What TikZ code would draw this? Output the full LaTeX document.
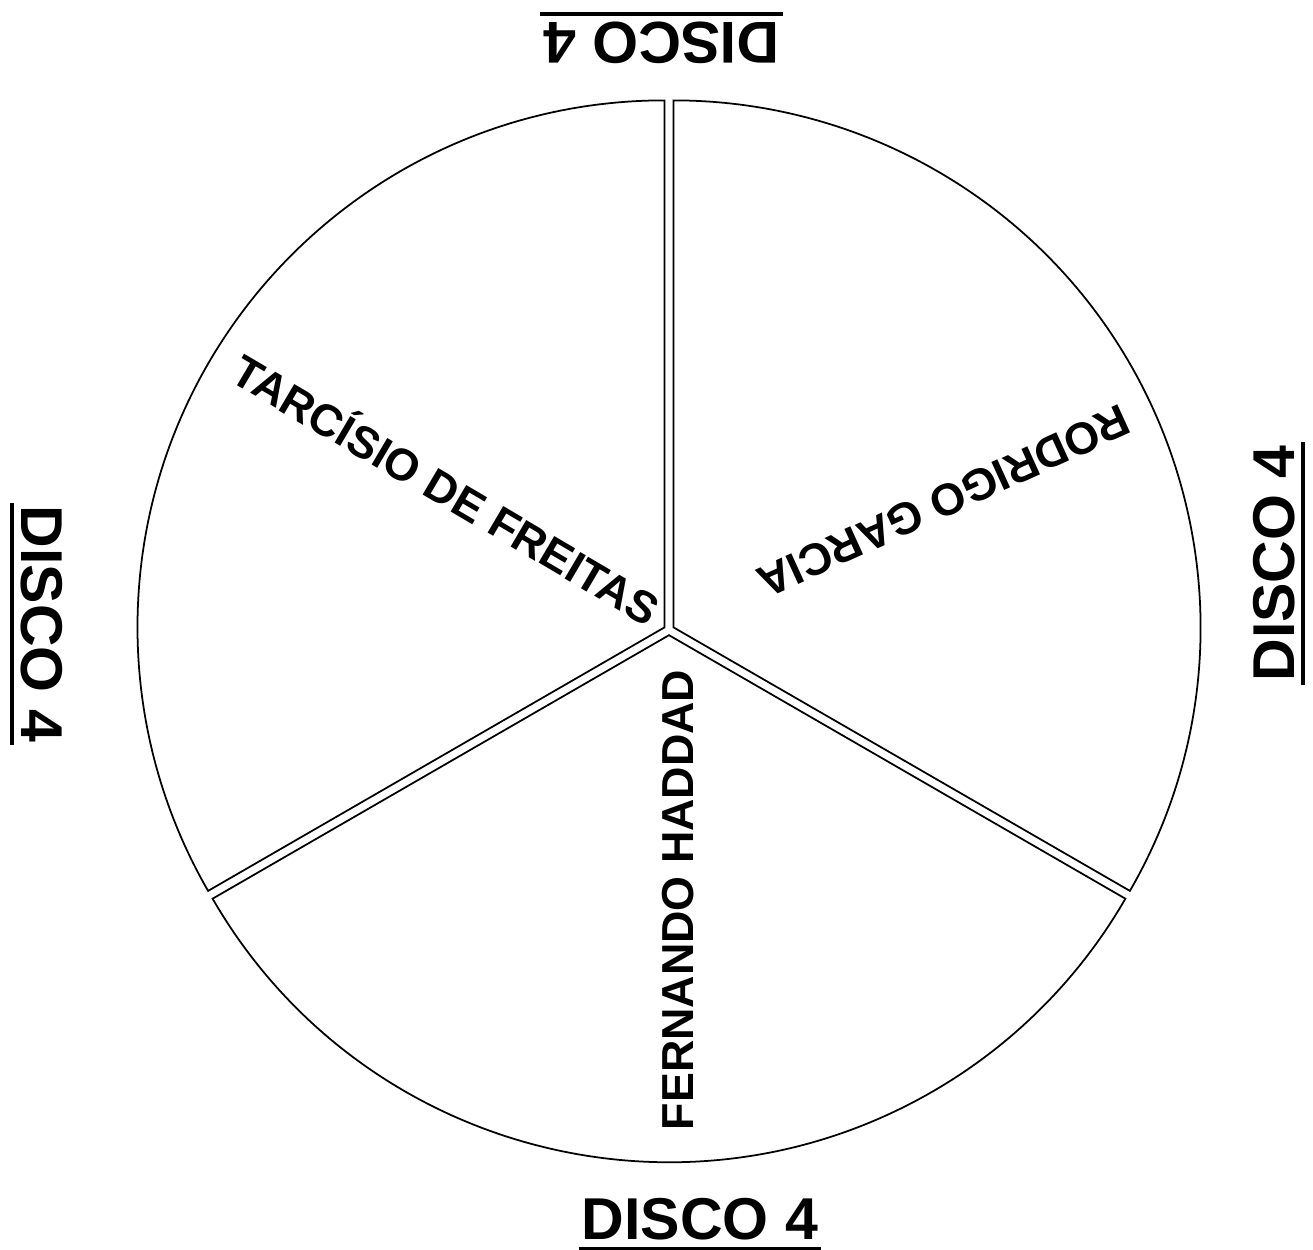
\documentclass[tikz,border=0pt]{standalone}
\usepackage{fontspec}
\setmainfont{Liberation Sans}
\usetikzlibrary{calc}

\begin{document}
\begin{tikzpicture}[x=0.02cm, y=0.02cm,
        sector/.style={draw=black, line width=1pt},
        cand/.style={font=\fontsize{25.5}{30}\selectfont\bfseries, inner sep=0pt, text height=18.3pt, text depth=0pt},
        disco/.style={font=\fontsize{33.6}{40}\selectfont\bfseries, inner sep=0pt, text height=24pt, text depth=0pt},
        uline/.style={line width=0.08cm, shorten <=-0.06cm, shorten >=-0.06cm}]
        \useasboundingbox (0,0) rectangle (1313,1250);

        % --- Disc ---
        % three sectors, each pulled a little away from the centre
        \coordinate (c) at (669,620);
        \foreach \a/\b in {90/210, 210/330, -30/90} {
            \pgfmathsetmacro{\m}{(\a+\b)/2}
            \draw[sector] ($(c)+(\m:5.2)$) -- ++(\a:527) arc[start angle=\a, end angle=\b, radius=527] -- cycle;
        }

        % --- Names ---
        \node[cand, rotate=-30.5] (tarcisio) at (446,760) {TARCÍSIO DE FREITAS};
        \node[cand, rotate=204.5] (rodrigo) at (944,748) {RODRIGO GARCIA};
        \node[cand, rotate=90] (fernando) at (677.5,350) {FERNANDO HADDAD};

        % --- Disc labels ---
        \node[disco] (discoS) at (700,31.5) {DISCO 4};
        \node[disco, rotate=180] (discoN) at (661.5,1206) {DISCO 4};
        \node[disco, rotate=-90] (discoW) at (42.5,626) {DISCO 4};
        \node[disco, rotate=90] (discoE) at (1273,686.5) {DISCO 4};

        % underlines
        \foreach \d in {discoS, discoN, discoW, discoE}
            \draw[uline] ($(\d.base west)!0.18cm!-90:(\d.base east)$) -- ($(\d.base east)!0.18cm!90:(\d.base west)$);

    \end{tikzpicture}
\end{document}
